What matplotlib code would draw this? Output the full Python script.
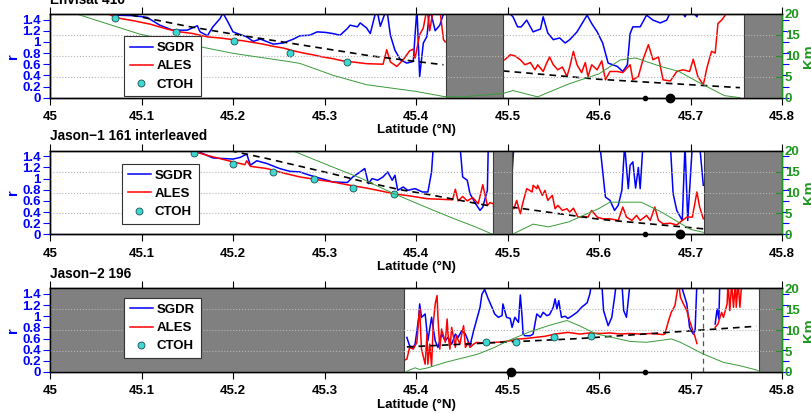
import numpy as np
import matplotlib
matplotlib.use("Agg")
import matplotlib.pyplot as plt
from matplotlib.ticker import FuncFormatter
from matplotlib.lines import Line2D

plt.rcParams['font.family'] = ['Liberation Sans', 'DejaVu Sans']
plt.rcParams['font.weight'] = 'bold'

nan = np.nan
TOP = 1.6  # values above the axis (clipped)

# ---------------- data ----------------
titles = ["Envisat 416", "Jason\u22121 161 interleaved", "Jason\u22122 196"]
x_ticks = [45, 45.1, 45.2, 45.3, 45.4, 45.5, 45.6, 45.7, 45.8]
r_ticks = [0, 0.2, 0.4, 0.6, 0.8, 1.0, 1.2, 1.4]
km_ticks = [0, 5, 10, 15, 20]

# Envisat 416
p1_sgdr_lat = [45.062, 45.069, 45.091, 45.106, 45.120, 45.134, 45.150, 45.161, 45.164, 45.172, 45.178,
               45.186, 45.189, 45.195, 45.200, 45.215, 45.222, 45.230, 45.244, 45.255, 45.266, 45.273,
               45.284, 45.292, 45.301, 45.309, 45.317, 45.325, 45.328, 45.336, 45.339, 45.346, 45.350,
               45.357, 45.361, 45.368, 45.372, 45.377, 45.383, 45.390, 45.397, 45.401, 45.404, 45.408,
               45.412, 45.415, 45.421, 45.426, 45.432, nan,
               45.497, 45.506, 45.511, 45.515, 45.521, 45.528, 45.536, 45.539, 45.544, 45.550, 45.557,
               45.563, 45.568, 45.576, 45.587, 45.592, 45.598, 45.604, 45.610, 45.620, 45.626, 45.631,
               45.634, 45.637, 45.645, 45.652, 45.659, 45.667, 45.674, 45.680, 45.689, 45.694, 45.699,
               45.707, 45.710]
p1_sgdr_r = [TOP, 1.48, 1.47, 1.44, 1.30, 1.21, 1.21, 1.29, 1.18, 1.11, 1.27,
             1.42, 1.52, 1.34, 1.18, 1.09, 1.01, 1.05, 0.96, 0.98, 1.05, 1.11,
             1.12, 1.18, 1.17, 1.15, 1.12, 1.24, 1.30, 1.27, 1.34, 1.25, 1.15,
             TOP, 1.28, TOP, 1.12, 0.85, 0.68, 0.62, 0.65, TOP, 0.38, 0.98,
             1.10, TOP, 1.20, 1.30, TOP, nan,
             TOP, 1.45, 1.27, 1.27, 1.39, 1.18, 1.23, 1.45, 1.16, 1.04, 1.07,
             0.98, 1.04, 1.18, 1.48, 1.33, 1.18, 0.98, 0.62, 0.56, 0.47, 0.59,
             1.15, 1.27, 1.27, 1.48, 1.39, 1.34, 1.39, TOP, TOP, 1.45, TOP,
             1.45, TOP]
p1_ales_lat = [45.058, 45.066, 45.077, 45.091, 45.109, 45.128, 45.142, 45.156, 45.172, 45.186, 45.200,
               45.211, 45.222, 45.233, 45.244, 45.255, 45.266, 45.277, 45.287, 45.298, 45.309, 45.320,
               45.331, 45.346, 45.364, 45.368, 45.372, 45.379, 45.386, 45.393, 45.397, 45.399, 45.404,
               45.408, 45.412, 45.415, 45.419, 45.426, 45.430, 45.432, nan,
               45.497, 45.503, 45.508, 45.514, 45.519, 45.525, 45.530, 45.533, 45.539, 45.543, 45.546,
               45.550, 45.555, 45.560, 45.565, 45.568, 45.572, 45.576, 45.581, 45.585, 45.588, 45.592,
               45.598, 45.603, 45.607, 45.612, 45.620, 45.626, 45.634, 45.637, 45.643, 45.648, 45.654,
               45.659, 45.665, 45.670, 45.678, 45.685, 45.692, 45.699, 45.703, 45.708, 45.714, 45.718,
               45.723, 45.727, 45.730, 45.734, 45.738, 45.741]
p1_ales_r = [TOP, 1.48, 1.42, 1.38, 1.32, 1.23, 1.18, 1.15, 1.09, 1.07, 1.04,
             1.02, 0.99, 0.96, 0.92, 0.89, 0.84, 0.80, 0.77, 0.73, 0.70, 0.66,
             0.64, 0.61, 0.60, 0.86, 0.64, 0.56, 0.68, 0.84, 0.87, 0.71, 1.13,
             1.25, TOP, 1.20, TOP, TOP, 1.04, 1.00, nan,
             0.68, 0.77, 0.75, 0.68, 0.59, 0.63, 0.50, 0.59, 0.47, 0.63, 0.73,
             0.59, 0.50, 0.55, 0.38, 0.55, 0.83, 0.59, 0.45, 0.63, 0.38, 0.59,
             0.50, 0.66, 0.32, 0.47, 0.47, 0.45, 0.59, 0.32, 0.38, 0.68, 0.95,
             0.68, 0.73, 0.32, 0.30, 0.47, 0.50, 0.47, 0.69, 0.38, 0.23, 0.54,
             0.83, 0.80, 1.33, 1.39, 1.48, TOP]
p1_ctoh_lat = [45.071, 45.138, 45.201, 45.262, 45.325]
p1_ctoh_r = [1.42, 1.18, 1.02, 0.80, 0.64]
p1_fit_lat = [45.089, 45.150, 45.200, 45.250, 45.300, 45.350, 45.400, 45.430, nan, 45.495, 45.600, 45.754]
p1_fit_r = [1.48, 1.28, 1.14, 1.01, 0.88, 0.75, 0.65, 0.59, nan, 0.48, 0.33, 0.18]
p1_dist_lat = [45.000, 45.029, 45.098, 45.150, 45.200, 45.262, 45.273, 45.310, 45.346, 45.400, 45.430,
               45.450, 45.495, 45.506, 45.533, 45.567, 45.600, 45.623, 45.640, 45.667, 45.687, 45.707,
               45.737, 45.754]
p1_dist_km = [24, 20, 15.2, 12.8, 10.6, 8.6, 8.2, 5.3, 3.1, 1.5, 0.3,
              0.2, 1.0, 1.7, 0.2, 3.3, 5.7, 9.0, 9.5, 7.5, 6.3, 3.9,
              0.5, 0.0]
p1_gaps = [(45.4325, 45.495), (45.759, 45.8)]
p1_dots_small = [45.650]
p1_dots_big = [45.678]

# Jason-1 161 interleaved
p2_sgdr_lat = [45.161, 45.164, 45.178, 45.189, 45.200, 45.208, 45.215, 45.219, 45.226, 45.237, 45.251,
               45.262, 45.273, 45.282, 45.292, 45.301, 45.309, 45.325, 45.331, 45.339, 45.344, 45.348,
               45.352, 45.358, 45.364, 45.369, 45.374, 45.377, 45.380, 45.386, 45.391, 45.399, 45.407,
               45.413, 45.417, 45.419, 45.448, 45.451, 45.456, 45.459, 45.464, 45.470, 45.473, 45.478,
               45.479, 45.484, nan,
               45.504, 45.505, 45.507, 45.601, 45.607, 45.612, 45.617, 45.621, 45.625, 45.628, 45.632,
               45.634, 45.637, 45.640, 45.643, 45.645, 45.648, 45.678, 45.681, 45.685, 45.691, 45.694,
               45.697, 45.702, 45.710, 45.714]
p2_sgdr_r = [TOP, 1.47, 1.37, 1.36, 1.35, 1.38, 1.44, 1.24, 1.32, 1.27, 1.18,
             1.13, 1.12, 1.07, 1.02, 0.98, 0.94, 0.93, 1.03, 1.12, 1.18, 0.91,
             1.00, 0.97, 1.03, 1.12, 0.97, 1.06, 0.79, 0.85, 0.79, 0.82, 0.76,
             0.76, 1.12, TOP, TOP, 1.03, 0.97, 0.73, 0.58, 0.43, 0.49, 0.79,
             TOP, TOP, nan,
             TOP, 1.09, TOP, TOP, 0.67, 0.61, 0.43, 0.52, 0.79, TOP, 0.82,
             1.24, 1.30, 0.83, 1.20, 0.82, TOP, TOP, 0.73, 0.43, 0.25, TOP,
             0.25, TOP, TOP, 0.88]
p2_ales_lat = [45.156, 45.158, 45.178, 45.200, 45.213, 45.215, 45.219, 45.237, 45.255, 45.273, 45.292,
               45.309, 45.328, 45.346, 45.364, 45.375, 45.393, 45.412, 45.426, 45.440, 45.443, 45.446,
               45.451, 45.456, 45.462, 45.468, 45.473, 45.478, 45.481, 45.484, nan,
               45.504, 45.507, 45.510, 45.514, 45.517, 45.521, 45.527, 45.528, 45.532, 45.533, 45.538,
               45.541, 45.544, 45.549, 45.552, 45.555, 45.560, 45.565, 45.568, 45.572, 45.577, 45.583,
               45.588, 45.592, 45.598, 45.604, 45.612, 45.621, 45.626, 45.630, 45.636, 45.641, 45.645,
               45.652, 45.656, 45.661, 45.665, 45.670, 45.678, 45.685, 45.691, 45.696, 45.702, 45.707,
               45.710, 45.714]
p2_ales_r = [TOP, 1.48, 1.39, 1.30, 1.25, 1.32, 1.22, 1.18, 1.10, 1.03, 0.98,
             0.94, 0.88, 0.83, 0.77, 0.73, 0.69, 0.64, 0.63, 0.62, 0.81, 0.60,
             0.68, 0.60, 0.66, 0.55, 0.89, 0.52, 0.57, 0.55, nan,
             0.49, 0.46, 0.61, 0.37, 0.58, 0.82, 0.76, 0.88, 0.82, 0.88, 0.70,
             0.79, 0.61, 0.70, 0.46, 0.52, 0.43, 0.46, 0.40, 0.47, 0.31, 0.32,
             0.31, 0.43, 0.31, 0.28, 0.28, 0.25, 0.49, 0.31, 0.25, 0.34, 0.25,
             0.34, 0.25, 0.49, 0.25, 0.19, 0.20, 0.17, 0.25, 0.31, 0.31, 0.76,
             0.49, 0.28]
p2_ctoh_lat = [45.157, 45.200, 45.244, 45.288, 45.331, 45.376]
p2_ctoh_r = [1.46, 1.26, 1.12, 1.00, 0.84, 0.72]
p2_fit_lat = [45.197, 45.237, 45.310, 45.339, 45.383, 45.412, 45.484, nan, 45.504, 45.601, 45.714]
p2_fit_r = [1.50, 1.36, 1.08, 0.96, 0.80, 0.72, 0.50, nan, 0.49, 0.27, 0.10]
p2_dist_lat = [45.250, 45.265, 45.310, 45.339, 45.375, 45.412, 45.441, 45.466, 45.484, 45.505,
               45.528, 45.545, 45.567, 45.600, 45.612, 45.646, 45.667, 45.700, 45.714]
p2_dist_km = [23, 20, 16.0, 13.5, 9.8, 6.4, 3.8, 1.7, 0.0, 0.0,
              2.45, 1.8, 3.0, 6.2, 7.7, 7.7, 5.5, 1.2, 0.5]
p2_gaps = [(45.484, 45.505), (45.715, 45.8)]
p2_dots_small = [45.650]
p2_dots_big = [45.689]

# Jason-2 196
p3_sgdr_lat = [45.390, 45.393, 45.397, 45.399, 45.403, 45.404, 45.406, 45.410, 45.413, 45.417, 45.421,
               45.424, 45.428, 45.432, 45.435, 45.439, 45.443, 45.446, 45.450, 45.454, 45.459, 45.463,
               45.466, 45.470, 45.472, 45.475, 45.479, 45.483, 45.486, 45.490, 45.494, 45.495, 45.499,
               45.503, 45.505, 45.508, 45.512, 45.514, 45.516, 45.517, 45.519, 45.525, 45.528, 45.532,
               45.536, 45.539, 45.543, 45.546, 45.550, 45.552, 45.554, 45.556, 45.559, 45.563, 45.566,
               45.570, 45.576, 45.581, 45.587, 45.590, 45.592, 45.603, 45.605, 45.610, 45.614, 45.617,
               45.619, 45.625, 45.627, 45.630, 45.634, 45.689, 45.696, 45.699, 45.703, 45.705, 45.707,
               nan, 45.727, 45.729, 45.731, 45.732]
p3_sgdr_r = [0.62, 0.47, 0.44, 0.50, 0.98, 1.22, 0.98, 1.04, 0.56, 0.98, 0.56,
             0.44, 0.68, 0.56, 0.62, 0.50, 0.68, 0.62, 0.74, 0.68, 0.47, 0.74,
             0.92, 1.16, 1.39, 1.48, 1.31, 1.16, 1.04, 0.98, 1.01, 1.22, 0.98,
             0.96, 0.80, 0.98, 0.89, 1.38, 0.98, 0.68, 0.65, 0.65, 0.68, 1.04,
             0.98, 1.07, 1.01, 1.03, 1.16, 1.31, 1.13, 1.28, 0.98, 1.00, 0.96,
             1.00, 1.07, 1.16, 1.24, 1.40, TOP, TOP, 1.10, 0.83, 0.98, 1.34,
             TOP, TOP, 1.10, 0.98, TOP, TOP, 1.22, 0.80, 0.68, 0.74, TOP,
             nan, 0.86, 1.13, 0.95, TOP]
p3_ales_lat = [45.387, 45.390, 45.393, 45.397, 45.401, 45.403, 45.404, 45.406, 45.410, 45.412, 45.413,
               45.415, 45.417, 45.419, 45.421, 45.423, 45.424, 45.426, 45.428, 45.432, 45.434, 45.435,
               45.437, 45.439, 45.443, 45.444, 45.448, 45.450, 45.452, 45.454, 45.457, 45.459, 45.463,
               45.466, 45.475, 45.485, 45.494, 45.503, 45.511, 45.520, 45.530, 45.541, 45.552, 45.566,
               45.579, 45.590, 45.601, 45.612, 45.623, 45.634, 45.645, 45.657, 45.670, 45.672, 45.676,
               45.679, 45.683, 45.687, 45.689, 45.692, 45.696, 45.699, 45.703, 45.705, 45.707, nan,
               45.727, 45.730, 45.734, 45.736, 45.740, 45.741, 45.743, 45.745, 45.747, 45.749, 45.750,
               45.752, 45.754, 45.756]
p3_ales_r = [0.21, 0.23, 0.44, 0.41, 0.53, 0.98, 1.13, 0.41, 0.14, 0.68, 0.14,
             0.50, 0.11, 0.90, 1.22, 1.37, 0.98, 0.41, 0.77, 0.53, 0.95, 0.68,
             0.41, 0.80, 0.44, 0.65, 0.50, 0.68, 0.83, 0.44, 0.53, 0.44, 0.50,
             0.53, 0.52, 0.53, 0.54, 0.56, 0.59, 0.60, 0.62, 0.64, 0.68, 0.71,
             0.68, 0.70, 0.69, 0.70, 0.68, 0.69, 0.68, 0.69, 0.67, 0.68, 0.92,
             1.07, 1.19, TOP, 1.34, 1.23, 1.10, 0.92, 0.72, 0.63, 0.51, nan,
             0.80, 0.86, 1.07, 0.98, 1.22, TOP, 1.10, TOP, 1.16, TOP, 1.16,
             TOP, 1.16, TOP]
p3_ctoh_lat = [45.476, 45.509, 45.551, 45.591]
p3_ctoh_r = [0.53, 0.53, 0.62, 0.64]
p3_fit_lat = [45.390, 45.579, 45.772]
p3_fit_r = [0.45, 0.60, 0.82]
p3_dist_lat = [45.390, 45.399, 45.404, 45.413, 45.432, 45.450, 45.468, 45.486, 45.501, 45.523, 45.545,
               45.565, 45.578, 45.597, 45.634, 45.652, 45.679, 45.689, 45.714, 45.736, 45.754, 45.772,
               45.776]
p3_dist_km = [0.2, 1.0, 0.6, 1.0, 2.3, 3.3, 4.3, 5.9, 7.5, 9.5, 11.1,
              12.3, 11.1, 9.1, 7.3, 7.1, 7.9, 7.1, 4.3, 2.3, 1.5, 0.5,
              0.0]
p3_gaps = [(45.0, 45.387), (45.775, 45.8)]
p3_dots_small = [45.650]
p3_dots_big = [45.504]
p3_vline = [45.714]

panels = [
    dict(sg=(p1_sgdr_lat, p1_sgdr_r), al=(p1_ales_lat, p1_ales_r), ct=(p1_ctoh_lat, p1_ctoh_r),
         fit=(p1_fit_lat, p1_fit_r), dist=(p1_dist_lat, p1_dist_km), gaps=p1_gaps,
         ds=p1_dots_small, db=p1_dots_big, vl=[], leg=(0.101, 0.015)),
    dict(sg=(p2_sgdr_lat, p2_sgdr_r), al=(p2_ales_lat, p2_ales_r), ct=(p2_ctoh_lat, p2_ctoh_r),
         fit=(p2_fit_lat, p2_fit_r), dist=(p2_dist_lat, p2_dist_km), gaps=p2_gaps,
         ds=p2_dots_small, db=p2_dots_big, vl=[], leg=(0.098, 0.123)),
    dict(sg=(p3_sgdr_lat, p3_sgdr_r), al=(p3_ales_lat, p3_ales_r), ct=(p3_ctoh_lat, p3_ctoh_r),
         fit=(p3_fit_lat, p3_fit_r), dist=(p3_dist_lat, p3_dist_km), gaps=p3_gaps,
         ds=p3_dots_small, db=p3_dots_big, vl=p3_vline, leg=(0.101, 0.164)),
]

# ---------------- style ----------------
BLUE = '#0000ff'
RED = '#ff0000'
GREEN = '#1e961e'
LGREEN = '#3a9a3a'
CYAN = '#3ed8d2'
FS = 9.5
W, H = 812, 413
fig = plt.figure(figsize=(W / 100, H / 100), dpi=100)

tops = [14, 150.7, 288.3]
ax_h = 83.7
left_px, right_px = 50, 782

fmt = FuncFormatter(lambda v, p: '%g' % v)

for i, (pn, top) in enumerate(zip(panels, tops)):
    ax1 = fig.add_axes([left_px / W, 1 - (top + ax_h) / H, (right_px - left_px) / W, ax_h / H])
    ax2 = ax1.twinx()
    ax1.set_xlim(45, 45.8)
    ax1.set_ylim(0, 1.5)
    ax2.set_ylim(0, 20)

    for (a, b) in pn['gaps']:
        ax1.axvspan(a, b, facecolor='#808080', edgecolor='#3c3c3c', lw=0.8, zorder=5)

    ax1.plot(*pn['sg'], color=BLUE, lw=1.1, zorder=2)
    ax1.plot(*pn['al'], color=RED, lw=1.1, zorder=3)
    ax1.plot(*pn['fit'], color='k', lw=1.2, ls=(0, (4, 3)), zorder=3.5)
    ax1.plot(*pn['ct'], 'o', ms=5, mfc=CYAN, mec='#1a5050', mew=0.6, zorder=4)
    for v in pn['vl']:
        ax1.axvline(v, color='#555555', lw=0.9, ls=(0, (4, 3)), zorder=4)

    ax2.plot(*pn['dist'], color=LGREEN, lw=0.7, zorder=2)
    ax2.plot(pn['ds'], [0] * len(pn['ds']), 'o', color='k', ms=3, clip_on=False, zorder=10)
    ax2.plot(pn['db'], [0] * len(pn['db']), 'o', color='k', ms=6, clip_on=False, zorder=10)

    ax1.set_xticks(x_ticks)
    ax1.xaxis.set_major_formatter(fmt)
    ax1.set_yticks(r_ticks)
    ax1.yaxis.set_major_formatter(fmt)
    ax2.set_yticks(km_ticks)

    ax1.tick_params(axis='x', direction='out', length=5, width=0.8, top=True, labelsize=FS, pad=4.5)
    ax1.tick_params(axis='y', direction='out', length=5, width=0.8, right=True, colors=BLUE,
                    labelsize=FS, pad=1.5)
    ax2.tick_params(axis='y', direction='in', length=5, width=0.8, colors=GREEN, labelsize=FS, pad=2)
    for lab in ax1.get_xticklabels() + ax1.get_yticklabels() + ax2.get_yticklabels():
        lab.set_fontweight('bold')

    ax2.yaxis.grid(True, ls=':', color='#b5b5b5', lw=0.8)
    for ax in (ax1, ax2):
        for s in ax.spines.values():
            s.set_linewidth(1.0)
            s.set_color('k')
        ax.spines['right'].set_color(GREEN)

    ax1.set_xlabel('Latitude (\u00b0N)', fontsize=FS, fontweight='bold', labelpad=1)
    ax1.set_ylabel('r', fontsize=FS + 1, fontweight='bold', color=BLUE, labelpad=2)
    ax2.set_ylabel('Km', fontsize=FS + 1, fontweight='bold', color=GREEN, labelpad=2)
    ax1.set_title(titles[i], loc='left', fontsize=9.8, fontweight='bold', pad=7.5)

    handles = [Line2D([], [], color=BLUE, lw=1.1), Line2D([], [], color=RED, lw=1.1),
               Line2D([], [], ls='none', marker='o', ms=5, mfc=CYAN, mec='#1a5050', mew=0.6)]
    leg = ax2.legend(handles, ['SGDR', 'ALES', 'CTOH'], loc='lower left', bbox_to_anchor=pn['leg'],
                     borderaxespad=0, fancybox=False, framealpha=1, edgecolor='#333333',
                     prop=dict(size=FS, weight='bold'), handlelength=1.75, handletextpad=0.3,
                     labelspacing=0.45, borderpad=0.45)
    leg.get_frame().set_linewidth(0.8)
    leg.set_zorder(20)

fig.savefig('out.png', dpi=100)
